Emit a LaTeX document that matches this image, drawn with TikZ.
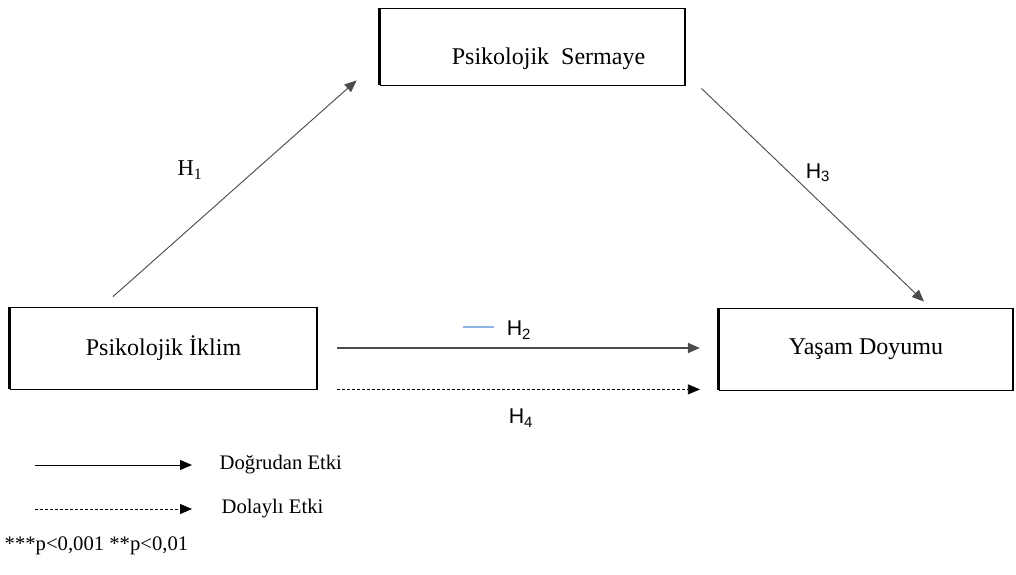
\documentclass[tikz,border=0pt]{standalone}
\usepackage{fontspec}
\setmainfont{Liberation Serif}
\setsansfont{Liberation Sans}
\usepackage{tikz}
\usetikzlibrary{arrows.meta,calc}

\tikzset{
  varbox/.style={draw,line width=0.6pt,inner sep=0pt,font=\fontsize{18}{21}\selectfont},
  edge/.style={line width=2.4pt},
  path arrow/.style={-{Triangle[length=9pt,width=7.5pt]},line width=0.7pt,draw=black!70},
  hyp/.style={font=\sffamily\fontsize{16}{19}\selectfont},
  legend/.style={anchor=west,font=\fontsize{15.5}{18}\selectfont}
}

\begin{document}
\begin{tikzpicture}[x=0.75pt,y=-0.75pt]
  \useasboundingbox (0,0) rectangle (1016,574);

  % Variables
  \node[varbox,minimum width=228.75pt,minimum height=57.75pt,
        label={[xshift=12pt,yshift=-9pt,font=\fontsize{18}{21}\selectfont]center:Psikolojik \ Sermaye}] (PS) at (532.5,46.5) {};
  \node[varbox,minimum width=230.25pt,minimum height=61.5pt] (PI) at (163.5,348) {Psikolojik İklim};
  \node[varbox,minimum width=220.5pt,minimum height=61.5pt] (YD) at (866,349) {Yaşam Doyumu};

  % heavy side edges
  \draw[edge] (PS.north west) -- (PS.south west);
  \draw[line width=1.5pt] (PS.north east) -- (PS.south east);
  \draw[edge] (PI.north west) -- (PI.south west);
  \draw[line width=1.5pt] (PI.north east) -- (PI.south east);
  \draw[edge] (YD.north west) -- (YD.south west);
  \draw[line width=1.5pt] (YD.north east) -- (YD.south east);

  % Paths
  \draw[path arrow] ($(PI.north)+(-50.5,-10)$) -- ($(PS.south west)+(-23,-5)$);
  \draw[path arrow] ($(PS.south east)+(16,3)$) -- ($(YD.north)+(58,-6)$);
  \draw[path arrow,line width=1.3pt,shorten <=15pt,shorten >=14pt] (PI.east) -- (PI.east -| YD.west);
  \draw[path arrow,draw=black,dashed,dash pattern=on 2.25pt off 1.5pt,line width=0.6pt,
        shorten <=15pt,shorten >=14pt] (PI.south east) -- (PI.south east -| YD.west);

  \node[font=\fontsize{17}{20}\selectfont] (h1) at (190,170) {H\textsubscript{1}};
  \node[hyp] (h3) at (818,173) {H\textsubscript{3}};
  \node[hyp] (h2) at (519,330) {H\textsubscript{2}};
  \node[hyp] (h4) at (521,418) {H\textsubscript{4}};
  \draw[color={rgb,255:red,141;green,180;blue,226},line width=0.8pt] (463,327) -- (494,327);

  % Legend
  \node[legend] (lg1) at (215,465) {Doğrudan Etki};
  \node[legend] (lg2) at (217,509) {Dolaylı Etki};
  \coordinate (l1) at (35,465);
  \coordinate (l2) at (35,509);
  \draw[-{Triangle[length=9pt,width=7.5pt]},line width=0.6pt] (l1) -- (l1 -| 192,0);
  \draw[-{Triangle[length=9pt,width=7.5pt]},line width=0.6pt,dash pattern=on 2.25pt off 1.5pt] (l2) -- (l2 -| 192,0);

  \node[legend] (note) at (0,546) {***p<0,001 **p<0,01};
\end{tikzpicture}
\end{document}
